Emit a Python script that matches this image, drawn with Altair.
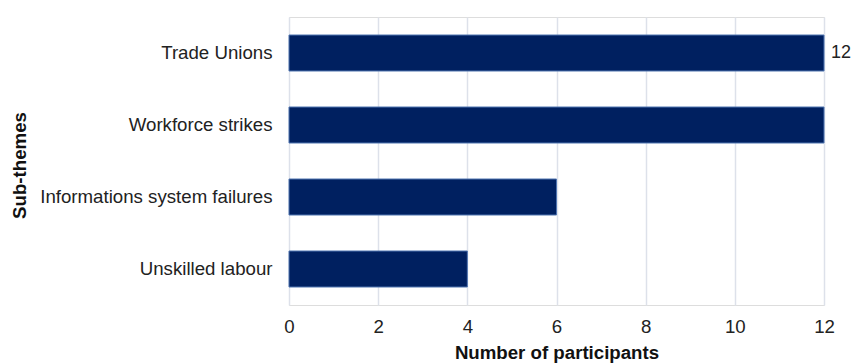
import altair as alt
import pandas as pd

categories = ["Trade Unions", "Workforce strikes", "Informations system failures", "Unskilled labour"]
values = [12, 12, 6, 4]
labels = ["12", "", "", ""]

df = pd.DataFrame({"theme": categories, "count": values, "label": labels})

FONT = "Liberation Sans"
FS = 18.67

y_enc = alt.Y("theme:N", sort=categories, title="Sub-themes",
              scale=alt.Scale(paddingInner=0.5, paddingOuter=0.25),
              axis=alt.Axis(domain=False, ticks=False, labelPadding=17, labelLimit=400,
                            labelFontSize=FS, labelColor="#222222", labelFont=FONT,
                            titleFont=FONT, titleFontSize=FS, titleFontWeight="bold",
                            titleColor="#111111", titlePadding=0, titleX=-260, titleY=148))

bars = alt.Chart(df).mark_bar(color="#002060", stroke="#4f74b0", strokeWidth=1).encode(
    x=alt.X("count:Q", title="Number of participants",
            scale=alt.Scale(domain=[0, 12], nice=False),
            axis=alt.Axis(values=[0, 2, 4, 6, 8, 10, 12], domain=False, ticks=False,
                          grid=True, gridColor="#dde1ea", gridWidth=1.5, labelFlush=False,
                          labelPadding=12, labelFontSize=FS, labelColor="#222222", labelFont=FONT,
                          titleFont=FONT, titleFontSize=FS, titleFontWeight="bold",
                          titleColor="#111111", titlePadding=8)),
    y=y_enc,
)

text = alt.Chart(df).mark_text(align="left", dx=7, fontSize=18, font=FONT, color="#222222").encode(
    x="count:Q",
    y=alt.Y("theme:N", sort=categories),
    text="label:N",
)

chart = (bars + text).properties(
    width=535, height=288,
    autosize=alt.AutoSizeParams(type="none"),
    padding={"left": 289, "top": 17, "right": 29, "bottom": 58},
).configure_view(stroke=None).configure(background="white")

chart.save("out.html", embed_options={"renderer": "svg", "actions": False})
